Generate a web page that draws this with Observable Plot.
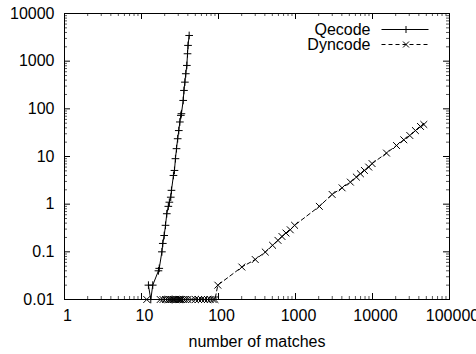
<!DOCTYPE html>
<html><head><meta charset="utf-8">
<script src="https://cdn.jsdelivr.net/npm/d3@7"></script>
<script src="https://cdn.jsdelivr.net/npm/@observablehq/plot@0.6"></script>
<style>
body{margin:0;background:#fff;}
#wrap{position:relative;width:476px;height:354px;overflow:hidden;font-family:"Liberation Sans",Arial,sans-serif;}
#legend{position:absolute;left:0;top:0;}
</style></head><body><div id="wrap"></div>
<script>
// Series data
const qecodeX = [12.3, 13.2, 14.0, 16.6, 17.0, 18.4, 18.9, 19.7, 20.5, 21.3, 22.3, 23.0, 24.0, 24.5, 26.0, 26.8, 27.6, 28.5, 29.5, 30.5, 31.5, 32.4, 33.0, 34.8, 35.6, 36.6, 37.6, 38.8, 39.6, 40.2, 41.6];
const qecodeY = [0.02, 0.01, 0.02, 0.04, 0.045, 0.1, 0.15, 0.22, 0.36, 0.63, 0.9, 1.1, 1.4, 1.95, 4.0, 5.1, 9.0, 14.6, 23.6, 35, 53, 73, 79, 150, 243, 363, 545, 813, 1430, 2140, 3460];
const dyncodeX = [11.7, 17.5, 19, 20.5, 22, 23, 24, 25, 26, 27, 28, 29, 30, 31, 32, 33, 35, 37, 40, 45, 50, 55, 60, 66, 72, 78, 85, 90,
  98, 201, 300, 405, 504, 592, 667, 752, 855, 973, 2040, 2990, 4030, 5160, 6170, 6970, 7850, 8930, 9880, 15200, 20500, 25500, 30500, 36100, 42000, 46400];
const dyncodeY = [0.01, 0.01, 0.01, 0.01, 0.01, 0.01, 0.01, 0.01, 0.01, 0.01, 0.01, 0.01, 0.01, 0.01, 0.01, 0.01, 0.01, 0.01, 0.01, 0.01, 0.01, 0.01, 0.01, 0.01, 0.01, 0.01, 0.01, 0.01,
  0.02, 0.048, 0.069, 0.099, 0.137, 0.174, 0.21, 0.248, 0.29, 0.36, 0.9, 1.6, 2.2, 2.9, 3.7, 4.35, 5.1, 6.0, 7.1, 11.8, 17, 22.4, 27.6, 35, 42.7, 47];
const seriesNames = ["Qecode", "Dyncode"];
// Tick values and labels
const xMajor = [1, 10, 100, 1000, 10000, 100000];
const xLabels = ["1", "10", "100", "1000", "10000", "100000"];
const yMajor = [0.01, 0.1, 1, 10, 100, 1000, 10000];
const yLabels = ["0.01", "0.1", "1", "10", "100", "1000", "10000"];
const minorMult = [2, 3, 4, 5, 6, 7, 8, 9];
const xTitle = "number of matches";

const xMinor = xMajor.slice(0, -1).flatMap(d => minorMult.map(m => d * m));
const yMinor = yMajor.slice(0, -1).flatMap(d => minorMult.map(m => d * m));

const W = 476, H = 354, mL = 64, mR = 27, mT = 13, mB = 55;
const pw = W - mL - mR, ph = H - mT - mB;
const qecode = qecodeX.map((x, i) => ({x, y: qecodeY[i]}));
const dyncode = dyncodeX.map((x, i) => ({x, y: dyncodeY[i]}));

const chart = Plot.plot({
  width: W, height: H,
  marginLeft: mL, marginRight: mR, marginTop: mT, marginBottom: mB,
  style: {fontFamily: '"Liberation Sans", Arial, sans-serif', fontSize: "16px", background: "white", color: "black"},
  x: {type: "log", domain: [1, 100000]},
  y: {type: "log", domain: [0.01, 10000]},
  marks: [
    // ticks (inward, mirrored)
    Plot.tickX(xMajor, {x: d => d, insetTop: ph - 6, stroke: "black"}),
    Plot.tickX(xMajor, {x: d => d, insetBottom: ph - 6, stroke: "black"}),
    Plot.tickX(xMinor, {x: d => d, insetTop: ph - 3, stroke: "#555"}),
    Plot.tickX(xMinor, {x: d => d, insetBottom: ph - 3, stroke: "#555"}),
    Plot.tickY(yMajor, {y: d => d, insetRight: pw - 6, stroke: "black"}),
    Plot.tickY(yMajor, {y: d => d, insetLeft: pw - 6, stroke: "black"}),
    Plot.tickY(yMinor, {y: d => d, insetRight: pw - 3, stroke: "#555"}),
    Plot.tickY(yMinor, {y: d => d, insetLeft: pw - 3, stroke: "#555"}),
    Plot.axisX(xMajor, {tickSize: 0, tickPadding: 10, dx: 3, label: null, tickFormat: d => xLabels[xMajor.indexOf(d)], fontSize: 16}),
    Plot.axisY(yMajor, {tickSize: 0, tickPadding: 10, label: null, tickFormat: d => yLabels[yMajor.indexOf(d)], fontSize: 16}),
    Plot.text([xTitle], {text: d => d, frameAnchor: "bottom", lineAnchor: "middle", dy: 42.5, dx: 0, fontSize: 16, fill: "black"}),
    // data
    Plot.line(qecode, {x: "x", y: "y", stroke: "black", strokeWidth: 1}),
    Plot.dot(qecode, {x: "x", y: "y", symbol: "plus", r: 2.6, stroke: "black", strokeWidth: 1}),
    Plot.line(dyncode, {x: "x", y: "y", stroke: "black", strokeWidth: 1, strokeDasharray: "4,3"}),
    Plot.dot(dyncode, {x: "x", y: "y", symbol: "times", r: 3.2, stroke: "black", strokeWidth: 1}),
    Plot.frame({stroke: "black"})
  ]
});
const wrap = document.getElementById("wrap");
wrap.appendChild(chart);

// Legend (inside plot, top right)
const ns = "http://www.w3.org/2000/svg";
const lg = document.createElementNS(ns, "svg");
lg.setAttribute("id", "legend");
lg.setAttribute("width", W); lg.setAttribute("height", 60);
lg.innerHTML = `
<g font-family='"Liberation Sans", Arial, sans-serif' font-size="16" fill="black">
<text x="370.5" y="34.5" text-anchor="end">${seriesNames[0]}</text>
<text x="370.5" y="49.5" text-anchor="end">${seriesNames[1]}</text>
</g>
<g stroke="black" stroke-width="1" fill="none">
<line x1="381.5" x2="428.5" y1="29.5" y2="29.5"/>
<path d="M402.5,29.5h7M406,26v7"/>
<line x1="381.5" x2="428.5" y1="44.5" y2="44.5" stroke-dasharray="4,3"/>
<path d="M403,41.5l6,6M409,41.5l-6,6"/>
</g>`;
wrap.appendChild(lg);
</script>
</body></html>
